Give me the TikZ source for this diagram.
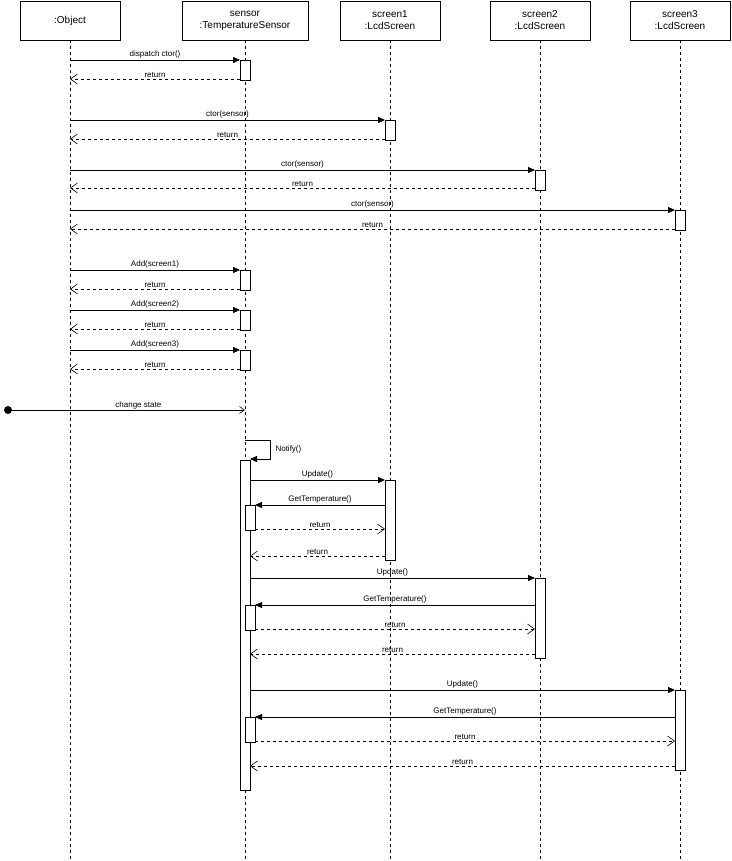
\documentclass[tikz,border=0pt]{standalone}
\usepackage{fontspec}
\setmainfont{Liberation Sans}
\usetikzlibrary{arrows.meta}
\begin{document}
\begin{tikzpicture}[x=1pt,y=-1pt,
  hdr/.style={draw,thick,fill=white,font=\fontsize{10}{12}\selectfont,align=center,inner sep=0pt},
  life/.style={dashed,line width=0.6pt,dash pattern=on 3pt off 3pt},
  act/.style={draw,fill=white,line width=0.6pt},
  msg/.style={line width=0.8pt,-{Triangle[length=7pt,width=6pt]}},
  ret/.style={line width=0.6pt,dash pattern=on 3pt off 3pt,-{Straight Barb[length=7pt,width=10pt]}},
  lbl/.style={font=\fontsize{8}{10}\selectfont,inner sep=1pt,above}]
\useasboundingbox (0,0) rectangle (731,861);
% lifelines
\foreach \x in {70,245,390,540,680}{\draw[life] (\x,40) -- (\x,861);}
\node[hdr,minimum width=100,minimum height=39] (o) at (70,20.5) {:Object};
\node[hdr,minimum width=126,minimum height=39] (s) at (245,20.5) {sensor\\:TemperatureSensor};
\node[hdr,minimum width=100,minimum height=39] (s1) at (390,20.5) {screen1\\:LcdScreen};
\node[hdr,minimum width=100,minimum height=39] (s2) at (540,20.5) {screen2\\:LcdScreen};
\node[hdr,minimum width=100,minimum height=39] (s3) at (680,20.5) {screen3\\:LcdScreen};
% activations
\newcommand{\actbox}[4]{\draw[act] (#1,#2) rectangle (#3,#4);}
\actbox{240}{60}{250}{80}
\actbox{385}{120}{395}{140}
\actbox{535}{170}{545}{190}
\actbox{675}{210}{685}{230}
\actbox{240}{270}{250}{290}
\actbox{240}{310}{250}{330}
\actbox{240}{350}{250}{370}
\actbox{240}{460}{250}{790}
\actbox{385}{480}{395}{560}
\actbox{245}{505}{255}{530}
\actbox{535}{578}{545}{658}
\actbox{245}{605}{255}{630}
\actbox{675}{690}{685}{770}
\actbox{245}{717}{255}{742}
% coordinates
\foreach \n/\x/\y in {a1/70/60,b1/240/60,a2/70/79,b2/240/79,
 a3/70/120,b3/385/120,a4/70/139,b4/385/139,
 a5/70/170,b5/535/170,a6/70/188,b6/535/188,
 a7/70/210,b7/675/210,a8/70/229,b8/675/229,
 a9/70/270,b9/240/270,a10/70/289,b10/240/289,
 a11/70/310,b11/240/310,a12/70/329,b12/240/329,
 a13/70/350,b13/240/350,a14/70/369,b14/240/369,
 st/8/410,se/245/410,
 n1/245/440,n2/270/440,n3/270/459,n4/250/459,
 u1/250/480,v1/385/480,g1/385/505,h1/255/505,r1/255/529,q1/385/529,r2/385/556,q2/250/556,
 u2/250/578,v2/535/578,g2/535/605,h2/255/605,r3/255/629,q3/535/629,r4/535/654,q4/250/654,
 u3/250/690,v3/675/690,g3/675/717,h3/255/717,r5/255/741,q5/675/741,r6/675/766,q6/250/766}
 {\coordinate (\n) at (\x,\y);}
\draw[msg] (a1) -- node[lbl]{dispatch ctor()} (b1);
\draw[ret] (b2) -- node[lbl]{return} (a2);
\draw[msg] (a3) -- node[lbl]{ctor(sensor)} (b3);
\draw[ret] (b4) -- node[lbl]{return} (a4);
\draw[msg] (a5) -- node[lbl]{ctor(sensor)} (b5);
\draw[ret] (b6) -- node[lbl]{return} (a6);
\draw[msg] (a7) -- node[lbl]{ctor(sensor)} (b7);
\draw[ret] (b8) -- node[lbl]{return} (a8);
\draw[msg] (a9) -- node[lbl]{Add(screen1)} (b9);
\draw[ret] (b10) -- node[lbl]{return} (a10);
\draw[msg] (a11) -- node[lbl]{Add(screen2)} (b11);
\draw[ret] (b12) -- node[lbl]{return} (a12);
\draw[msg] (a13) -- node[lbl]{Add(screen3)} (b13);
\draw[ret] (b14) -- node[lbl]{return} (a14);
\fill (st) circle (4);
\draw[line width=0.6pt,-{Straight Barb[length=5pt,width=7pt]}] (st) -- node[lbl,pos=0.55]{change state} (se);
\draw[msg] (n1) -- (n2) -- (n3) -- (n4);
\node[font=\fontsize{8}{10}\selectfont,anchor=west] (nl) at (272,449) {Notify()};
\draw[msg] (u1) -- node[lbl]{Update()} (v1);
\draw[msg] (g1) -- node[lbl]{GetTemperature()} (h1);
\draw[ret] (r1) -- node[lbl]{return} (q1);
\draw[ret] (r2) -- node[lbl]{return} (q2);
\draw[msg] (u2) -- node[lbl]{Update()} (v2);
\draw[msg] (g2) -- node[lbl]{GetTemperature()} (h2);
\draw[ret] (r3) -- node[lbl]{return} (q3);
\draw[ret] (r4) -- node[lbl]{return} (q4);
\draw[msg] (u3) -- node[lbl]{Update()} (v3);
\draw[msg] (g3) -- node[lbl]{GetTemperature()} (h3);
\draw[ret] (r5) -- node[lbl]{return} (q5);
\draw[ret] (r6) -- node[lbl]{return} (q6);
\end{tikzpicture}
\end{document}
